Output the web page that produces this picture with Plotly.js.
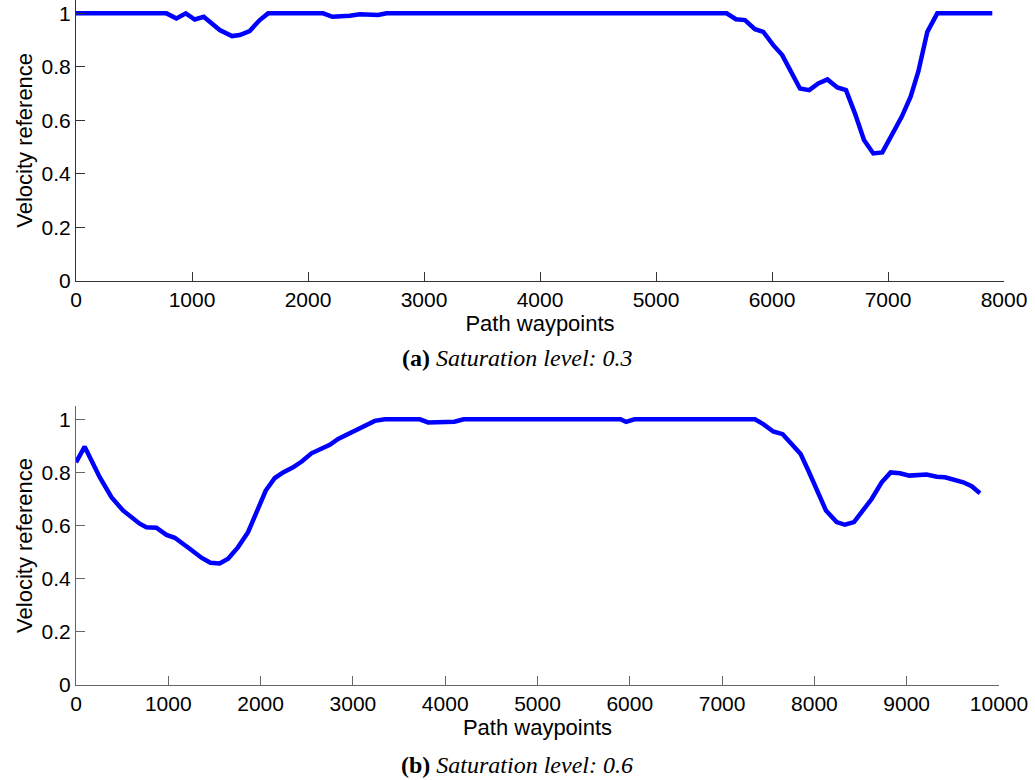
<!DOCTYPE html>
<html>
<head>
<meta charset="utf-8">
<script src="https://cdn.plot.ly/plotly-3.0.1.min.js"></script>
<style>html,body{margin:0;padding:0;background:#fff;}#chart{width:1035px;height:780px;}</style>
</head>
<body>
<div id="chart"></div>
<script>
// Top panel (a): saturation level 0.3
const waypointsA = [0,780,866,946,1024,1101,1239,1345,1412,1497,1584,1656,2130,2211,2360,2447,2604,2677,5609,5689,5767,5853,5925,6011,6088,6241,6321,6399,6478,6563,6638,6715,6793,6873,6951,7032,7118,7195,7261,7339,7425,7899];
const velocityA = [1,1,0.981,1.0,0.977,0.987,0.9375,0.915,0.919,0.934,0.975,1,1,0.987,0.991,0.997,0.994,1,1,0.978,0.975,0.941,0.931,0.881,0.844,0.719,0.713,0.738,0.753,0.723,0.713,0.626,0.526,0.476,0.480,0.545,0.613,0.688,0.782,0.931,1,1];

// Bottom panel (b): saturation level 0.6
const waypointsB = [0,94,257,384,509,690,763,871,980,1070,1232,1359,1456,1557,1648,1756,1864,1955,2056,2154,2244,2352,2449,2551,2659,2750,2840,2948,3045,3147,3237,3346,3725,3815,3942,4100,4200,5900,5960,6050,7356,7446,7554,7656,7753,7851,7934,8024,8125,8241,8331,8429,8530,8620,8729,8826,8927,9028,9216,9325,9415,9523,9613,9704,9794];
const velocityB = [0.838,0.897,0.782,0.707,0.657,0.607,0.594,0.592,0.565,0.554,0.513,0.479,0.460,0.457,0.475,0.519,0.575,0.650,0.732,0.779,0.800,0.819,0.842,0.872,0.888,0.904,0.926,0.944,0.959,0.979,0.994,1,1,0.988,0.988,0.991,1,1,0.99,1,1,0.982,0.954,0.944,0.907,0.869,0.807,0.732,0.657,0.613,0.603,0.613,0.659,0.700,0.763,0.800,0.797,0.788,0.792,0.784,0.782,0.773,0.763,0.748,0.722];

const yTicks = [0,0.2,0.4,0.6,0.8,1];
const xTicksA = [0,1000,2000,3000,4000,5000,6000,7000,8000];
const xTicksB = [0,1000,2000,3000,4000,5000,6000,7000,8000,9000,10000];
const xTitle = 'Path waypoints';
const yTitle = 'Velocity reference';
const captionA = '<b>(a)</b> <i>Saturation level: 0.3</i>';
const captionB = '<b>(b)</b> <i>Saturation level: 0.6</i>';

const tickFont = {family: 'Liberation Sans, Arial, sans-serif', size: 21, color: '#000'};
const titleFont = {family: 'Liberation Sans, Arial, sans-serif', size: 22, color: '#000'};

function axisX(domain, range, ticks, color) {
  return {
    domain: domain, range: range, tickvals: ticks, ticktext: ticks.map(String),
    showline: true, linecolor: color, linewidth: 1, ticks: 'inside', ticklen: 9, tickcolor: color,
    showgrid: false, zeroline: false, tickfont: tickFont,
    title: {text: xTitle, font: titleFont, standoff: 0}
  };
}
function axisY(domain, color) {
  return {
    domain: domain, range: [0, 1.05], tickvals: yTicks,
    showline: true, linecolor: color, linewidth: 1, ticks: 'inside', ticklen: 9, tickcolor: color,
    showgrid: false, zeroline: false, tickfont: tickFont,
    title: {text: yTitle, font: titleFont, standoff: 2}
  };
}

const traces = [
  {x: waypointsA, y: velocityA, type: 'scatter', mode: 'lines', line: {color: '#0000ff', width: 4.5}, xaxis: 'x', yaxis: 'y', hoverinfo: 'skip'},
  {x: waypointsB, y: velocityB, type: 'scatter', mode: 'lines', line: {color: '#0000ff', width: 4.5}, xaxis: 'x2', yaxis: 'y2', hoverinfo: 'skip'}
];

const layout = {
  width: 1035, height: 780,
  margin: {l: 76.3, r: 31, t: 0, b: 95},
  paper_bgcolor: '#fff', plot_bgcolor: '#fff',
  showlegend: false,
  xaxis: Object.assign(axisX([0, 1], [0, 8000], xTicksA, '#333'), {anchor: 'y'}),
  yaxis: Object.assign(axisY([0.5902, 1], '#333'), {anchor: 'x'}),
  xaxis2: Object.assign(axisX([0, 0.9946], [0, 10000], xTicksB, '#666'), {anchor: 'y2'}),
  yaxis2: Object.assign(axisY([0, 0.4073], '#666'), {anchor: 'x2'}),
  annotations: [
    {text: captionA, xref: 'paper', yref: 'paper', x: 0.4756, y: 0.4774, xanchor: 'center', yanchor: 'middle', showarrow: false,
     font: {family: 'Liberation Serif, Times New Roman, serif', size: 24, color: '#000'}},
    {text: captionB, xref: 'paper', yref: 'paper', x: 0.4756, y: -0.1168, xanchor: 'center', yanchor: 'middle', showarrow: false,
     font: {family: 'Liberation Serif, Times New Roman, serif', size: 24, color: '#000'}}
  ]
};

Plotly.newPlot('chart', traces, layout, {staticPlot: true, displayModeBar: false});
</script>
</body>
</html>
